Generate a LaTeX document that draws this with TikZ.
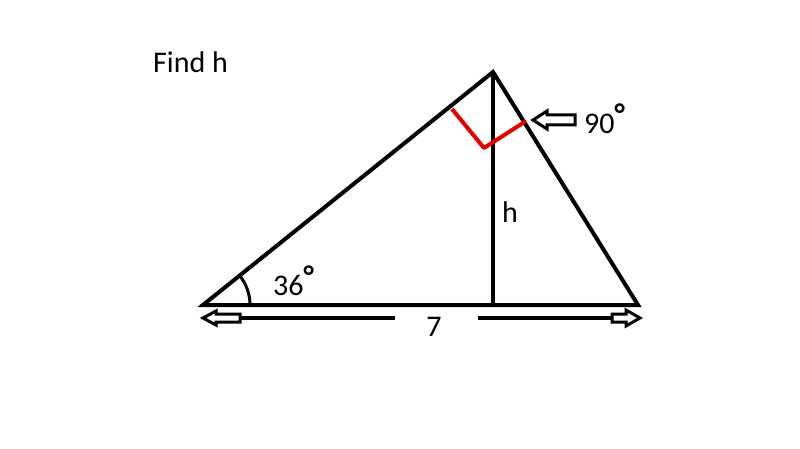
\documentclass[tikz,border=0pt]{standalone}
\usepackage{fontspec}
\setmainfont{Carlito}
\begin{document}
\begin{tikzpicture}[x=1pt,y=-1pt,
  blk/.style={line width=4pt,black},
  redl/.style={line width=4pt,red!90!black,line join=round},
  hollow/.style={line width=3pt,black,fill=white,line join=miter},
  lbl/.style={font=\fontsize{30}{30}\selectfont,inner sep=0pt}]
\useasboundingbox (0,0) rectangle (800,449);
\coordinate (A) at (203,305);
\coordinate (B) at (493,72);
\coordinate (C) at (638,305);
\coordinate (D) at (493,305);
\coordinate (R1) at (452,109);
\coordinate (R2) at (484,148);
\coordinate (R3) at (526,121);
% triangle
\draw[blk,line join=miter] (A) -- (B) -- (C) -- cycle;
\draw[blk] (B) -- (D);
% right angle mark
\draw[redl] (R1) -- (R2) -- (R3);
% angle arc
\draw[line width=3pt] ([xshift=47pt]A) arc[start angle=0,end angle=-39,radius=47];
% labels
\node[lbl,anchor=west] (find) at (153,62) {Find h};
\node[lbl,anchor=west] (hl) at (502,212) {h};
\node[lbl,anchor=west] (a36) at (273,281) {36\raisebox{9pt}{\textbf{°}}};
\node[lbl,anchor=west] (a90) at (584,119) {90\raisebox{9pt}{\textbf{°}}};
\node[lbl] (seven) at (434,327) {7};
% 90 arrow
\draw[hollow] (533,120) -- (547,111) -- (547,115) -- (575,115) -- (575,125) -- (547,125) -- (547,129) -- cycle;
% bottom arrows
\coordinate (L1) at (240,318);
\coordinate (L2) at (395,318);
\coordinate (Q1) at (478,318);
\coordinate (Q2) at (612,318);
\draw[blk] (L1) -- (L2);
\draw[blk] (Q1) -- (Q2);
\draw[hollow] (203,318) -- (216,311) -- (216,314) -- (240,314) -- (240,322) -- (216,322) -- (216,325) -- cycle;
\draw[hollow] (640,318) -- (626,310) -- (626,314) -- (612,314) -- (612,322) -- (626,322) -- (626,326) -- cycle;
\end{tikzpicture}
\end{document}
